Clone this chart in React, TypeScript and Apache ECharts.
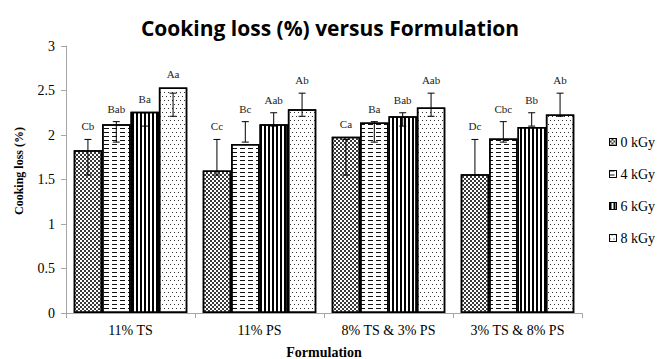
import React, { useEffect, useRef } from "react";
import * as echarts from "echarts";

const categories = ["11% TS", "11% PS", "8% TS & 3% PS", "3% TS & 8% PS"];
const seriesNames = ["0 kGy", "4 kGy", "6 kGy", "8 kGy"];

const values0 = [1.83, 1.6, 1.98, 1.56];
const values4 = [2.12, 1.9, 2.14, 1.96];
const values6 = [2.26, 2.12, 2.21, 2.09];
const values8 = [2.535, 2.29, 2.31, 2.23];

const errLow0 = [1.55, 1.55, 1.55, 1.55];
const errHigh0 = [1.95, 1.95, 1.95, 1.95];
const errLow4 = [1.92, 1.92, 1.92, 1.92];
const errHigh4 = [2.15, 2.15, 2.15, 2.15];
const errLow6 = [2.1, 2.1, 2.1, 2.1];
const errHigh6 = [2.25, 2.25, 2.25, 2.25];
const errLow8 = [2.21, 2.21, 2.21, 2.21];
const errHigh8 = [2.47, 2.47, 2.47, 2.47];

const letters0 = ["Cb", "Cc", "Ca", "Dc"];
const letters4 = ["Bab", "Bc", "Ba", "Cbc"];
const letters6 = ["Ba", "Aab", "Bab", "Bb"];
const letters8 = ["Aa", "Ab", "Aab", "Ab"];

const yMin = 0;
const yMax = 3;
const yInterval = 0.5;

const SERIF = "'Liberation Serif', 'Times New Roman', serif";
const CAT_GAP = 0.12;

const decals: any[] = [
  {
    symbol: "rect",
    symbolSize: 1,
    dashArrayX: [[2, 2], [0, 2, 2, 0]],
    dashArrayY: [2, 0],
    color: "#3a3a3a",
    backgroundColor: "#b8b8b8",
  },
  {
    symbol: "rect",
    symbolSize: 1,
    dashArrayX: [5, 3],
    dashArrayY: [1, 3],
    color: "#111",
    backgroundColor: "#fff",
  },
  {
    symbol: "rect",
    symbolSize: 1,
    dashArrayX: [2, 2],
    dashArrayY: [10, 0],
    color: "#000",
    backgroundColor: "#fff",
  },
  {
    symbol: "rect",
    symbolSize: 1,
    dashArrayX: [[1, 3], [0, 2, 1, 1]],
    dashArrayY: [1, 2.5],
    color: "#333",
    backgroundColor: "#fff",
  },
];

const allValues = [values0, values4, values6, values8];
const allLow = [errLow0, errLow4, errLow6, errLow8];
const allHigh = [errHigh0, errHigh4, errHigh6, errHigh8];
const allLetters = [letters0, letters4, letters6, letters8];

export default function App() {
  const ref = useRef<HTMLDivElement>(null);

  useEffect(() => {
    if (!ref.current) return;
    const chart = echarts.init(ref.current, null, { renderer: "svg" });

    const barSeries = seriesNames.map((name, k) => ({
      name,
      type: "bar",
      data: allValues[k],
      barGap: "0%",
      barCategoryGap: `${CAT_GAP * 100}%`,
      itemStyle: {
        color: "#fff",
        borderColor: "#000",
        borderWidth: 1.5,
        decal: decals[k],
      },
      z: 2,
    }));

    const errSeries = seriesNames.map((name, k) => ({
      name: name + " err",
      type: "custom",
      z: 5,
      data: allValues[k].map((v, i) => [i, v, allLow[k][i], allHigh[k][i]]),
      encode: { x: 0, y: 1 },
      renderItem: (params: any, api: any) => {
        const cat = api.value(0);
        const val = api.value(1);
        const lo = api.value(2);
        const hi = api.value(3);
        const c = api.coord([cat, val]);
        const band = api.size([1, 0])[0];
        const groupW = band * (1 - CAT_GAP);
        const bw = groupW / 4;
        const x = c[0] - groupW / 2 + (k + 0.5) * bw;
        const yVal = c[1];
        const yLo = api.coord([cat, lo])[1];
        const yHi = api.coord([cat, hi])[1];
        const top = Math.min(yVal, yHi);
        const cap = 3.5;
        const ls = { stroke: "#000", lineWidth: 1 };
        return {
          type: "group",
          children: [
            { type: "line", shape: { x1: x, y1: yHi, x2: x, y2: yLo }, style: ls },
            { type: "line", shape: { x1: x - cap, y1: yHi, x2: x + cap, y2: yHi }, style: ls },
            { type: "line", shape: { x1: x - cap, y1: yLo, x2: x + cap, y2: yLo }, style: ls },
            {
              type: "text",
              x,
              y: top - 13,
              style: {
                text: allLetters[k][params.dataIndex],
                fill: "#222",
                font: `11px ${SERIF}`,
                align: "center",
                verticalAlign: "middle",
              },
            },
          ],
        };
      },
    }));

    chart.setOption({
      animation: false,
      backgroundColor: "#fff",
      title: {
        text: "Cooking loss (%) versus Formulation",
        left: "center",
        top: 12,
        textStyle: {
          fontFamily: "'Open Sans', 'Noto Sans', sans-serif",
          fontWeight: "bold",
          fontSize: 21,
          color: "#000",
        },
      },
      grid: { left: 66, right: 78, top: 46, bottom: 46, outerBoundsMode: "none", containLabel: false },
      legend: {
        data: seriesNames,
        orient: "vertical",
        left: 604,
        top: 130,
        itemGap: 18,
        itemWidth: 7,
        itemHeight: 7,
        icon: "rect",
        textStyle: { fontFamily: SERIF, fontSize: 14, color: "#000", padding: [0, 0, 0, -1] },
        itemStyle: { borderColor: "#000", borderWidth: 1 },
      },
      xAxis: {
        type: "category",
        data: categories,
        axisLine: { lineStyle: { color: "#a6a6a6", width: 1 } },
        axisTick: { show: true, length: 5, lineStyle: { color: "#a6a6a6" } },
        axisLabel: { fontFamily: SERIF, fontSize: 14, color: "#000", margin: 10 },
        name: "Formulation",
        nameLocation: "middle",
        nameGap: 32,
        nameTextStyle: { fontFamily: SERIF, fontSize: 14, fontWeight: "bold", color: "#000" },
      },
      yAxis: {
        type: "value",
        min: yMin,
        max: yMax,
        interval: yInterval,
        splitLine: { show: false },
        axisLine: { show: true, lineStyle: { color: "#a6a6a6", width: 1 } },
        axisTick: { show: true, length: 5, lineStyle: { color: "#a6a6a6" } },
        axisLabel: { fontFamily: SERIF, fontSize: 14, color: "#000", margin: 11 },
      },
      graphic: [
        {
          type: "text",
          x: 19,
          y: 171,
          rotation: Math.PI / 2,
          style: {
            text: "Cooking loss (%)",
            font: `bold 12px ${SERIF}`,
            fill: "#000",
            align: "center",
            verticalAlign: "middle",
          },
        },
      ],
      series: [...barSeries, ...errSeries],
    });

    return () => chart.dispose();
  }, []);

  return (
    <div
      ref={ref}
      style={{ position: "fixed", left: 0, top: 0, width: 660, height: 359 }}
    />
  );
}
